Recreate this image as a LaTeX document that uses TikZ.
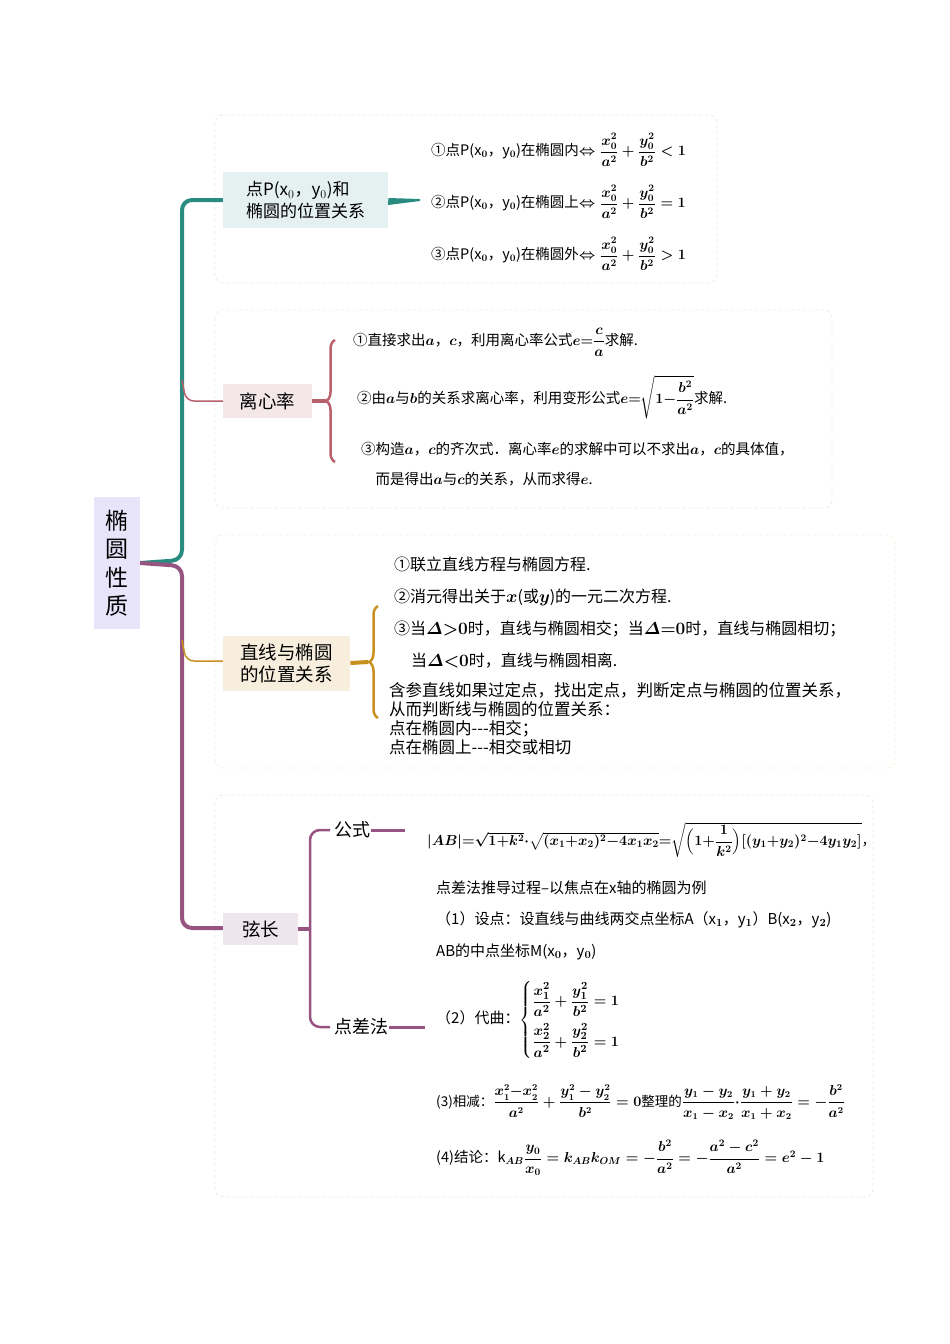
\documentclass[tikz,border=0pt]{standalone}
\usepackage{amsmath}
\usepackage{fontspec}
\setmainfont{Noto Sans CJK SC}
\usepackage{tikz}
\usetikzlibrary{decorations.pathreplacing}
\definecolor{MapTeal}{RGB}{42,140,128}
\definecolor{MapRose}{RGB}{184,96,108}
\definecolor{MapGold}{RGB}{200,144,30}
\definecolor{MapPlum}{RGB}{150,84,128}
\definecolor{MapRoot}{RGB}{232,228,250}
\newcommand{\dfr}[2]{\dfrac{#1}{#2}}

\begin{document}
\begin{tikzpicture}[x=1pt,y=-1pt,font=\fontsize{18.5}{22}\selectfont,
  panel/.style={draw=#1,dashed,rounded corners=8pt,line width=0.8pt},
  topic/.style n args={2}{fill=#1,minimum width=#2,minimum height=34pt,inner sep=3pt,align=left},
  txt/.style={anchor=west,inner sep=1pt,align=left,font=\fontsize{16}{20}\selectfont\boldmath},
  brc/.style={decorate,decoration={brace,amplitude=9pt,mirror},line width=2.5pt,#1}]
    \useasboundingbox (0,0) rectangle (950,1344);
    % panels
    \draw[panel=MapTeal!15] (215,115) rectangle (717,283);
    \draw[panel=MapRose!15] (215,310) rectangle (832,508);
    \draw[panel=MapGold!15] (215,535) rectangle (895,768);
    \draw[panel=MapPlum!15] (215,795) rectangle (873,1197);
    % root and trunk
    \node[fill=MapRoot,minimum width=46pt,minimum height=132pt,font=\fontsize{23}{28.5}\selectfont,align=center] (root) at (117,563) {椭\\圆\\性\\质};
    \draw[MapTeal,line width=4pt,rounded corners=10pt] (root.east) -- (182,560) -- (182,200) -- (223,200);
    \draw[MapPlum,line width=4pt,rounded corners=10pt] (root.east) -- (182,566) -- (182,928) -- (223,928);
    \draw[MapRose,line width=1.5pt,rounded corners=8pt] (182,380) -- (186,401) -- (223,401);
    \draw[MapGold,line width=1.5pt,rounded corners=8pt] (182,640) -- (186,661) -- (223,661);
    % topics
    \node[topic={MapTeal!12}{165pt},minimum height=56pt,anchor=west,font=\fontsize{17}{22}\selectfont] (pos) at (223,200) {点P(x$_0$，y$_0$)和\\椭圆的位置关系};
    \node[topic={MapRose!15}{89pt},anchor=west] (ecc) at (223,401) {离心率};
    \node[topic={MapGold!15}{127pt},minimum height=55pt,anchor=west] (line) at (223,663) {直线与椭圆\\的位置关系};
    \node[topic={MapPlum!15}{75pt},minimum height=32pt,anchor=west] (chord) at (223,929) {弦长};
    % teal detail
    \fill[MapTeal] (pos.east) ++(0,-2) -- (420,199) -- (420,201) -- ++(-32,4) -- cycle;
    \node[txt,font=\fontsize{14.5}{18}\selectfont\boldmath] (p1) at (430,150) {①点P(x$_0$，y$_0$)在椭圆内$\Leftrightarrow\dfr{x_0^2}{a^2}+\dfr{y_0^2}{b^2}<1$};
    \node[txt,font=\fontsize{14.5}{18}\selectfont\boldmath] (p2) at (430,202) {②点P(x$_0$，y$_0$)在椭圆上$\Leftrightarrow\dfr{x_0^2}{a^2}+\dfr{y_0^2}{b^2}=1$};
    \node[txt,font=\fontsize{14.5}{18}\selectfont\boldmath] (p3) at (430,254) {③点P(x$_0$，y$_0$)在椭圆外$\Leftrightarrow\dfr{x_0^2}{a^2}+\dfr{y_0^2}{b^2}>1$};
    % rose detail
    \draw[brc=MapRose] (335,340) -- (335,462);
    \draw[MapRose,line width=4pt] (ecc.east) -- (326,401);
    \node[txt,font=\fontsize{14.5}{18}\selectfont\boldmath] (e1) at (352,342) {①直接求出$a$，$c$，利用离心率公式$e{=}\dfr{c}{a}$求解.};
    \node[txt,font=\fontsize{14.5}{18}\selectfont\boldmath] (e2) at (356,397) {②由$a$与$b$的关系求离心率，利用变形公式$e{=}\sqrt{1{-}\dfr{b^2}{a^2}}$求解.};
    \node[txt,font=\fontsize{14.5}{30}\selectfont\boldmath] (e3) at (360,464) {③构造$a$，$c$的齐次式．离心率$e$的求解中可以不求出$a$，$c$的具体值，\\\hspace{1em}而是得出$a$与$c$的关系，从而求得$e$.};
    % gold detail
    \draw[brc=MapGold] (378,606) -- (378,718);
    \draw[MapGold,line width=4pt] (line.east) -- (368,662);
    \node[txt] (l1) at (393,564) {①联立直线方程与椭圆方程.};
    \node[txt] (l2) at (393,597) {②消元得出关于$x$(或$y$)的一元二次方程.};
    \node[txt] (l3) at (393,629) {③当$\varDelta{>}0$时，直线与椭圆相交；当$\varDelta{=}0$时，直线与椭圆相切；};
    \node[txt] (l4) at (410,661) {当$\varDelta{<}0$时，直线与椭圆相离.};
    \node[txt,font=\fontsize{16.5}{19}\selectfont] (l5) at (388,719) {含参直线如果过定点，找出定点，判断定点与椭圆的位置关系，\\从而判断线与椭圆的位置关系：\\点在椭圆内-{}-{}-相交；\\点在椭圆上-{}-{}-相交或相切};
    % plum detail
    \draw[MapPlum,line width=2.5pt,rounded corners=10pt] (330,830) -- (310,830) -- (310,1027) -- (330,1027);
    \draw[MapPlum,line width=4pt] (chord.east) -- (310,929);
    \node[txt,font=\fontsize{18}{22}\selectfont] (fm) at (333,830) {公式};
    \node[txt,font=\fontsize{18}{22}\selectfont] (dc) at (333,1027) {点差法};
    \draw[MapPlum,line width=3pt] (fm.east) -- (405,830);
    \draw[MapPlum,line width=3pt] (dc.east) -- (425,1027);
    \node[txt,font=\fontsize{14}{18}\selectfont\boldmath] (f1) at (426,840) {$|AB|{=}\sqrt{1{+}k^2}{\cdot}\sqrt{(x_1{+}x_2)^2{-}4x_1x_2}{=}\sqrt{\Bigl(1{+}\dfr{1}{k^2}\Bigr)[(y_1{+}y_2)^2{-}4y_1y_2]}$，};
    \node[txt,font=\fontsize{15}{20}\selectfont\boldmath] (d0) at (435,888) {点差法推导过程--以焦点在x轴的椭圆为例};
    \node[txt,font=\fontsize{15}{20}\selectfont\boldmath] (d1) at (435,920) {（1）设点：设直线与曲线两交点坐标A（x$_1$，y$_1$）B(x$_2$，y$_2$)};
    \node[txt,font=\fontsize{15}{20}\selectfont\boldmath] (d2) at (435,952) {AB的中点坐标M(x$_0$，y$_0$)};
    \node[txt,font=\fontsize{15}{20}\selectfont\boldmath] (d3) at (435,1020) {（2）代曲：$\begin{cases}\dfr{x_1^2}{a^2}+\dfr{y_1^2}{b^2}=1\\[10pt]\dfr{x_2^2}{a^2}+\dfr{y_2^2}{b^2}=1\end{cases}$};
    \node[txt,font=\fontsize{13.5}{20}\selectfont\boldmath] (d4) at (435,1102) {(3)相减：$\dfr{x_1^2{-}x_2^2}{a^2}+\dfr{y_1^2-y_2^2}{b^2}=0$整理的$\dfr{y_1-y_2}{x_1-x_2}{\cdot}\dfr{y_1+y_2}{x_1+x_2}=-\dfr{b^2}{a^2}$};
    \node[txt,font=\fontsize{14.5}{20}\selectfont\boldmath] (d5) at (435,1158) {(4)结论：k$_{AB}\dfr{y_0}{x_0}=k_{AB}k_{OM}=-\dfr{b^2}{a^2}=-\dfr{a^2-c^2}{a^2}=e^2-1$};
\end{tikzpicture}
\end{document}
